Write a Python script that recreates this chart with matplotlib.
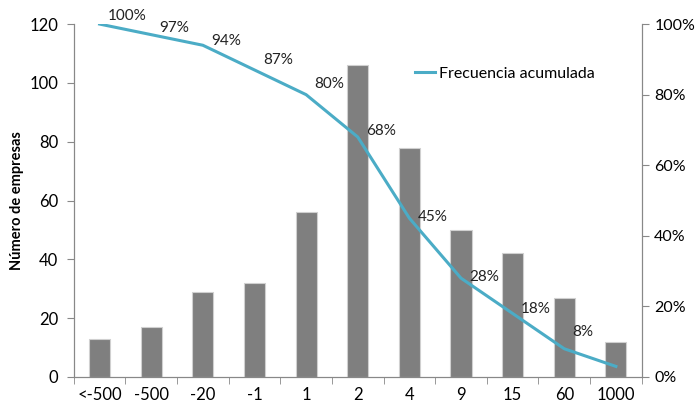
import matplotlib.pyplot as plt
import numpy as np

# datos
categorias = ['<-500', '-500', '-20', '-1', '1', '2', '4', '9', '15', '60', '1000']
num_empresas = [13, 17, 29, 32, 56, 106, 78, 50, 42, 27, 12]
frec_acum = [100, 97, 94, 87, 80, 68, 45, 28, 18, 8, 3]
etiquetas = ['100%', '97%', '94%', '87%', '80%', '68%', '45%', '28%', '18%', '8%', '']

# desplazamiento de las etiquetas (puntos), solo estilo
label_dy = [6, 5, 3, 7, 8, 4, 1, 1, 3, 12, 0]

plt.rcParams['font.family'] = ['Lato', 'DejaVu Sans']

fig = plt.figure(figsize=(6.96, 4.08), dpi=100)
ax = fig.add_axes([0.106, 0.076, 0.816, 0.865])
ax2 = ax.twinx()

x = np.arange(len(categorias))
ax.bar(x, num_empresas, width=0.41, color='#7f7f7f', edgecolor='#d0d0d0', linewidth=0.8, zorder=2)
ax.set_xlim(-0.5, len(categorias) - 0.5)
ax.set_ylim(0, 120)
ax.set_yticks(range(0, 121, 20))
ax.set_ylabel('Número de empresas', fontsize=10.5, fontweight='bold', labelpad=4)

ax.set_xticks(x)
ax.set_xticklabels(categorias, fontsize=12)
ax.tick_params(axis='x', which='major', length=0, pad=7)
ax.set_xticks(np.arange(-0.5, len(categorias)), minor=True)
ax.tick_params(axis='x', which='minor', length=5, color='#888888', direction='out')
ax.tick_params(axis='y', labelsize=12, length=5, color='#888888', pad=6)

ax2.plot(x, frec_acum, color='#4bacc6', linewidth=2.2, label='Frecuencia acumulada', zorder=3)
for xi, yi, t, dy in zip(x, frec_acum, etiquetas, label_dy):
    if t:
        ax2.annotate(t, (xi, yi), xytext=(6, dy), textcoords='offset points',
                     ha='left', va='center', fontsize=11, color='#222222')
ax2.set_ylim(0, 100)
ax2.set_yticks(range(0, 101, 20))
ax2.set_yticklabels([f'{v}%' for v in range(0, 101, 20)])
ax2.tick_params(axis='y', labelsize=11.5, length=5, color='#888888', pad=4)

for a in (ax, ax2):
    a.spines['top'].set_visible(False)
    for s in ('left', 'right', 'bottom'):
        a.spines[s].set_color('#888888')
ax.set_zorder(ax2.get_zorder() - 1)
ax.patch.set_visible(False)

ax2.legend(loc='upper left', bbox_to_anchor=(0.575, 0.92), frameon=False, fontsize=11.5,
           handlelength=1.3, handletextpad=0.2)

fig.savefig('out.png', dpi=100)
